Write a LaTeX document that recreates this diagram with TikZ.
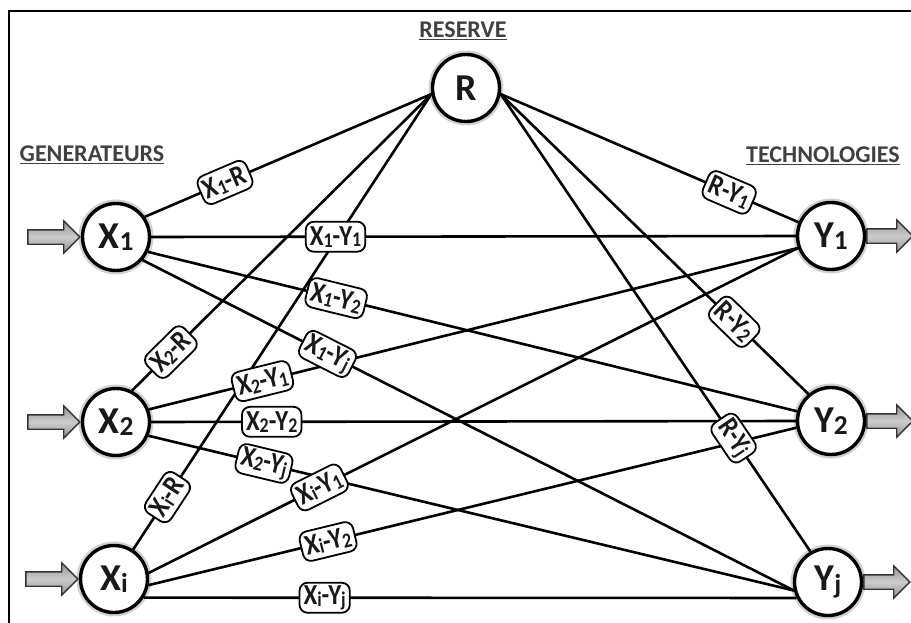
\documentclass[tikz,border=0pt]{standalone}
\usepackage{fontspec}
\setmainfont{Carlito}
\usetikzlibrary{shapes.arrows}
\newcommand{\lsub}[1]{\raisebox{-0.06em}{\scalebox{0.72}{#1}}}
\newcommand{\lnarrow}[1]{\scalebox{0.86}[1]{#1}}
\begin{document}
\begin{tikzpicture}[x=1pt,y=-1pt,
  vert/.style={circle, draw, line width=3.4pt, minimum size=67pt, inner sep=0pt, fill=white,
    preaction={draw=black!18, line width=8pt},
    font=\bfseries\fontsize{38}{38}\selectfont, text=black!90},
  edge/.style={line width=2.6pt},
  lbl/.style={draw, line width=1.8pt, rounded corners=8pt, fill=white, inner xsep=4pt,
    inner ysep=2pt, minimum height=30pt, font=\bfseries\fontsize{29}{29}\selectfont, text=black!90},
  hdr/.style={font=\bfseries\fontsize{24}{24}\selectfont, text=black!75, anchor=base, inner sep=0pt},
  inarr/.style={single arrow, draw=black!80, line width=1.3pt, top color=gray!85,
    bottom color=gray!85, middle color=gray!40, minimum height=52pt, inner sep=6.5pt,
    single arrow head extend=9pt, single arrow tip angle=90}]
\useasboundingbox (0,0) rectangle (911,623);
% frame
\draw[line width=1.8pt] (9,623) -- (9,11) -- (911,11);
% nodes
\node[vert] (R) at (466,88) {R};
\node[vert] (X1) at (116,237) {X\lsub{1}};
\node[vert] (X2) at (116,422) {X\lsub{2}};
\node[vert] (Xi) at (114,579) {X\lsub{i}};
\node[vert] (Y1) at (831,236) {Y\lsub{1}};
\node[vert] (Y2) at (831,421) {Y\lsub{2}};
\node[vert] (Yj) at (828,582) {Y\lsub{j}};
% headers
\node[hdr] (gen) at (92,162) {\underline{GENERATEURS}};
\node[hdr] (res) at (463,38) {\underline{RESERVE}};
\node[hdr] (tech) at (823,163) {\underline{TECHNOLOGIES}};
% in / out arrows
\node[inarr, anchor=tip] (a1) at (X1.west) {};
\node[inarr, anchor=tip] (a2) at (X2.west) {};
\node[inarr, anchor=tip] (a3) at (Xi.west) {};
\node[inarr, anchor=tail, minimum height=46pt] (b1) at (Y1.east) {};
\node[inarr, anchor=tail, minimum height=46pt] (b2) at (Y2.east) {};
\node[inarr, anchor=tail, minimum height=46pt] (b3) at (Yj.east) {};
% edges
\foreach \a/\b in {X1.35/R.190, X2.63/R.190, Xi.57/R.190,
  X1.east/Y1.west, X1.-25/Y2.164, X1.-41/Yj.194,
  X2.21/Y1.200, X2.east/Y2.west, X2.-23/Yj.194,
  Xi.10/Y1.200, Xi.-10/Y2.191, Xi.-32/Yj.207,
  R.-10/Y1.157, R.-10/Y2.130, R.-10/Yj.120}
  \draw[edge] (\a) -- (\b);
% edge labels
\foreach \a/\b/\p/\t/\n in {
  X1.35/R.190/0.28/{X\lsub{1}-R}/l1r,
  X2.63/R.190/0.13/{X\lsub{2}-R}/l2r,
  Xi.57/R.190/0.115/{X\lsub{i}-R}/lir,
  X1.east/Y1.west/0.286/{X\lsub{1}-Y\lsub{1}}/l11,
  X1.-25/Y2.164/0.29/{X\lsub{1}-Y\lsub{2}}/l12,
  X1.-41/Yj.194/0.284/{X\lsub{1}-Y\lsub{j}}/l1j,
  X2.21/Y1.200/0.175/{X\lsub{2}-Y\lsub{1}}/l21,
  X2.east/Y2.west/0.187/{X\lsub{2}-Y\lsub{2}}/l22,
  X2.-23/Yj.194/0.179/{X\lsub{2}-Y\lsub{j}}/l2j,
  Xi.10/Y1.200/0.263/{X\lsub{i}-Y\lsub{1}}/li1,
  Xi.-10/Y2.191/0.277/{X\lsub{i}-Y\lsub{2}}/li2,
  Xi.-32/Yj.207/0.277/{X\lsub{i}-Y\lsub{j}}/lij,
  R.-10/Y1.157/0.767/{R-Y\lsub{1}}/lr1,
  R.-10/Y2.130/0.759/{R-Y\lsub{2}}/lr2,
  R.-10/Yj.120/0.752/{R-Y\lsub{j}}/lrj}
  \path (\a) -- node[lbl, pos=\p, sloped] (\n) {\lnarrow{\t}} (\b);
\end{tikzpicture}
\end{document}
